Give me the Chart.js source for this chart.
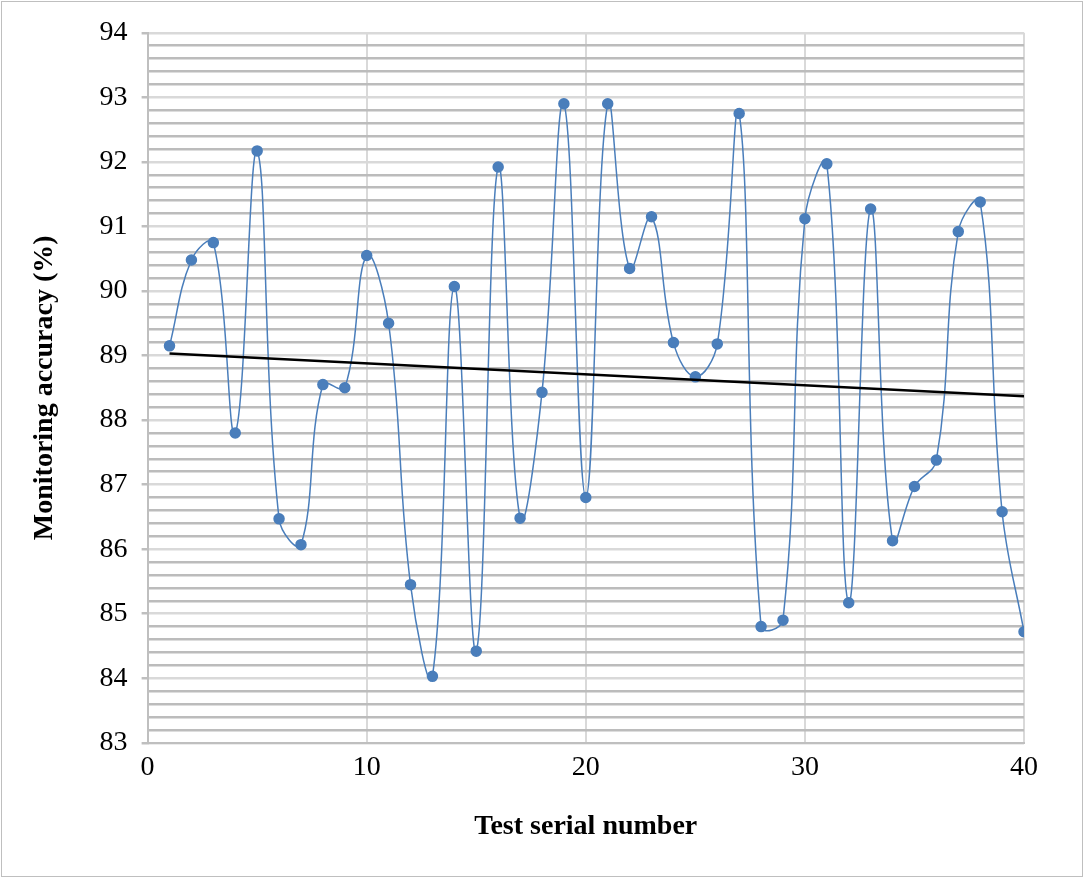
<!DOCTYPE html>
<html><head><meta charset="utf-8">
<script src="https://cdn.jsdelivr.net/npm/chart.js@4"></script>
<style>
html,body{margin:0;padding:0;background:#fff;}
#wrap{position:absolute;left:1px;top:1px;width:1080px;height:874px;border:1px solid #bfbfbf;}
</style></head><body>
<div id="wrap"><canvas id="c" width="1080" height="874"></canvas></div>
<script>
const testNumbers = [1,2,3,4,5,6,7,8,9,10,11,12,13,14,15,16,17,18,19,20,21,22,23,24,25,26,27,28,29,30,31,32,33,34,35,36,37,38,39,40];
const accuracy = [89.15,90.48,90.75,87.8,92.17,86.47,86.07,88.55,88.5,90.55,89.5,85.45,84.03,90.07,84.42,91.92,86.48,88.43,92.9,86.8,92.9,90.35,91.15,89.2,88.67,89.18,92.75,84.8,84.9,91.12,91.97,85.17,91.27,86.13,86.97,87.38,90.92,91.38,86.58,84.72];
const xTickLabels = [0,10,20,30,40];
const yTickLabels = [83,84,85,86,87,88,89,90,91,92,93,94];

// least-squares linear trend
const n = testNumbers.length;
const mx = testNumbers.reduce((a,b)=>a+b,0)/n, my = accuracy.reduce((a,b)=>a+b,0)/n;
let sxy=0,sxx=0;
for(let i=0;i<n;i++){sxy+=(testNumbers[i]-mx)*(accuracy[i]-my);sxx+=(testNumbers[i]-mx)**2;}
const slope=sxy/sxx, icpt=my-slope*mx;
const first=testNumbers[0], last=testNumbers[n-1];

const isInt = v => Math.abs(v-Math.round(v))<1e-6;
new Chart(document.getElementById('c'),{
  type:'scatter',
  data:{datasets:[
    {data:testNumbers.map((x,i)=>({x,y:accuracy[i]})),showLine:true,tension:0.4,borderColor:'#4a7ebb',borderWidth:1.5,
     pointBackgroundColor:'#4a7ebb',pointBorderColor:'#4a7ebb',pointRadius:5,order:2},
    {data:[{x:first,y:slope*first+icpt},{x:last,y:slope*last+icpt}],showLine:true,borderColor:'#000',borderWidth:2.5,pointRadius:0,order:1}
  ]},
  options:{
    responsive:false,animation:false,
    layout:{padding:{left:22,right:58,top:28,bottom:28}},
    plugins:{legend:{display:false},tooltip:{enabled:false}},
    scales:{
      x:{type:'linear',min:0,max:40,
        afterBuildTicks:a=>{a.ticks=xTickLabels.map(v=>({value:v}));},
        ticks:{color:'#000',font:{family:'Liberation Serif',size:28},padding:8},
        grid:{color:'#d9d9d9',lineWidth:2,drawTicks:false},
        border:{color:'#bfbfbf',width:2},
        title:{display:true,text:'Test serial number',color:'#000',font:{family:'Liberation Serif',size:28,weight:'bold'},padding:{top:18}}},
      y:{min:yTickLabels[0],max:yTickLabels[yTickLabels.length-1],
        ticks:{stepSize:0.2,autoSkip:false,color:'#000',font:{family:'Liberation Serif',size:28},padding:14,
          callback:v=>isInt(v)?String(Math.round(v)):''},
        grid:{lineWidth:2.5,color:c=>isInt(c.tick.value)?'#d9d9d9':'#bcbcbc',
          tickLength:6,tickColor:c=>isInt(c.tick.value)?'#bfbfbf':'rgba(0,0,0,0)'},
        border:{color:'#bfbfbf',width:2},
        title:{display:true,text:'Monitoring accuracy (%)',color:'#000',font:{family:'Liberation Serif',size:28,weight:'bold'},padding:{bottom:24}}}
    }
  }
});
</script></body></html>
